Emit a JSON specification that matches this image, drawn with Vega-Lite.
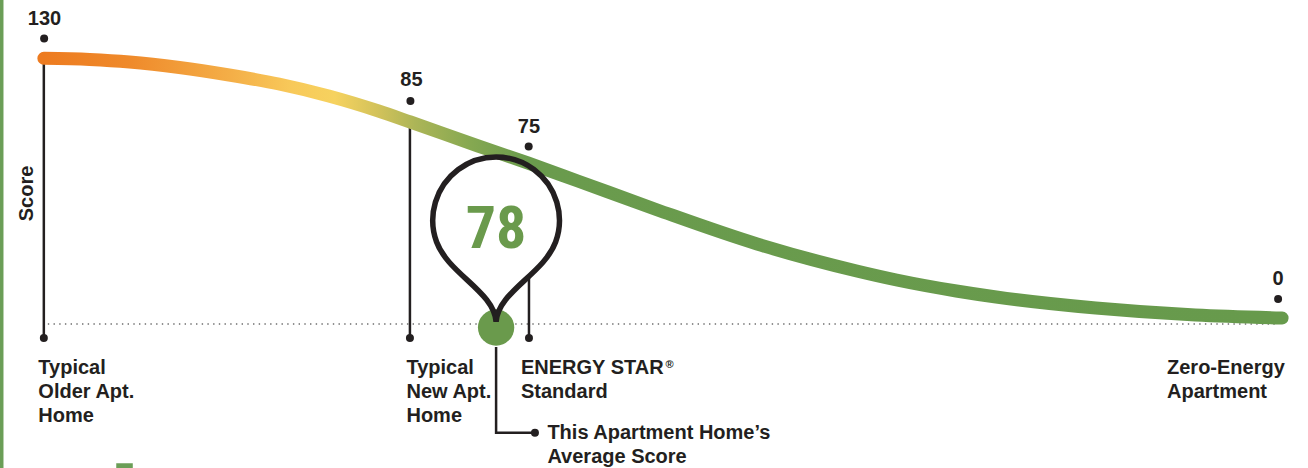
{
  "$schema": "https://vega.github.io/schema/vega-lite/v6.json",
  "width": 1308,
  "height": 468,
  "padding": 0,
  "autosize": {"type": "fit", "contains": "padding"},
  "background": "white",
  "config": {"view": {"stroke": null}},
  "datasets": {
    "frame": [
      {"x0": 0, "x1": 3.5, "y0": -72.5, "y1": 161.5},
      {"x0": 116.7, "x1": 133.3, "y0": -72.5, "y1": -70.15}
    ],
    "baseline": [{"x0": 48, "x1": 1283, "level": -0.5}],
    "stems": [
      {"pos": 44, "top": 132.35, "bottom": -7.5},
      {"pos": 411.5, "top": 100.5, "bottom": -7.5},
      {"pos": 531, "top": 80, "bottom": -7.5}
    ],
    "connector": [
      {"pos": 498, "level": -12, "step": 1},
      {"pos": 498, "level": -54.85, "step": 2},
      {"pos": 537, "level": -54.85, "step": 3}
    ],
    "curve": [
      {"pos": 44, "level": 132.35},
      {"pos": 90, "level": 131.75},
      {"pos": 130, "level": 130.5},
      {"pos": 180, "level": 127.75},
      {"pos": 230, "level": 124},
      {"pos": 280, "level": 119.5},
      {"pos": 330, "level": 113.5},
      {"pos": 380, "level": 106},
      {"pos": 412, "level": 100.5},
      {"pos": 480, "level": 88.5},
      {"pos": 530, "level": 80},
      {"pos": 580, "level": 71},
      {"pos": 660, "level": 56.5},
      {"pos": 760, "level": 39.5},
      {"pos": 860, "level": 26},
      {"pos": 900, "level": 21.5},
      {"pos": 960, "level": 16},
      {"pos": 1000, "level": 13},
      {"pos": 1100, "level": 7.5},
      {"pos": 1200, "level": 4},
      {"pos": 1287, "level": 2.5}
    ],
    "pin": [{"pos": 498, "level": 42, "textLevel": 37.5, "score": "78"}],
    "marker": [{"pos": 498, "level": -2.25}],
    "dots": [
      {"pos": 44.3, "level": 142.25},
      {"pos": 412, "level": 111},
      {"pos": 530.7, "level": 88.25},
      {"pos": 1283, "level": 12},
      {"pos": 44, "level": -7.5},
      {"pos": 411.5, "level": -7.5},
      {"pos": 531, "level": -7.5},
      {"pos": 537, "level": -54.85}
    ],
    "scores": [
      {"pos": 44.7, "level": 149, "score": "130"},
      {"pos": 413, "level": 118.5, "score": "85"},
      {"pos": 531, "level": 94.85, "score": "75"},
      {"pos": 1283, "level": 19, "score": "0"}
    ],
    "labels": [
      {"pos": 38.5, "level": -25.65, "label": "Typical\nOlder Apt.\nHome"},
      {"pos": 408, "level": -25.65, "label": "Typical\nNew Apt.\nHome"},
      {"pos": 523, "level": -25.65, "label": "ENERGY STAR\nStandard"},
      {"pos": 1171.5, "level": -25.65, "label": "Zero-Energy\nApartment"},
      {"pos": 549.5, "level": -58.15, "label": "This Apartment Home’s\nAverage Score"}
    ],
    "reg": [{"pos": 668, "level": -22.5, "label": "®"}],
    "axisTitle": [{"pos": 33, "level": 64.75, "label": "Score"}]
  },
  "layer": [
    {
      "data": {"name": "frame"},
      "mark": {"type": "rect", "color": "#6b9e57", "opacity": 1},
      "encoding": {
        "x": {"field": "x0", "type": "quantitative", "scale": {"domain": [0, 1308], "nice": false, "zero": false}, "axis": null},
        "x2": {"field": "x1"},
        "y": {"field": "y0", "type": "quantitative", "scale": {"domain": [-72.5, 161.5], "nice": false, "zero": false}, "axis": null},
        "y2": {"field": "y1"}
      }
    },
    {
      "data": {"name": "baseline"},
      "mark": {"type": "rule", "color": "#6e6e6e", "strokeWidth": 1.5, "strokeDash": [1.4, 4.3]},
      "encoding": {
        "x": {"field": "x0", "type": "quantitative", "scale": {"domain": [0, 1308], "nice": false, "zero": false}, "axis": null},
        "x2": {"field": "x1"},
        "y": {"field": "level", "type": "quantitative", "scale": {"domain": [-72.5, 161.5], "nice": false, "zero": false}, "axis": null}
      }
    },
    {
      "data": {"name": "stems"},
      "mark": {"type": "rule", "color": "#231f20", "strokeWidth": 2.5},
      "encoding": {
        "x": {"field": "pos", "type": "quantitative", "scale": {"domain": [0, 1308], "nice": false, "zero": false}, "axis": null},
        "y": {"field": "top", "type": "quantitative", "scale": {"domain": [-72.5, 161.5], "nice": false, "zero": false}, "axis": null},
        "y2": {"field": "bottom"}
      }
    },
    {
      "data": {"name": "connector"},
      "mark": {"type": "line", "color": "#231f20", "strokeWidth": 2.5, "strokeJoin": "miter", "interpolate": "linear"},
      "encoding": {
        "x": {"field": "pos", "type": "quantitative", "scale": {"domain": [0, 1308], "nice": false, "zero": false}, "axis": null},
        "y": {"field": "level", "type": "quantitative", "scale": {"domain": [-72.5, 161.5], "nice": false, "zero": false}, "axis": null},
        "order": {"field": "step", "type": "quantitative"}
      }
    },
    {
      "data": {"name": "pin"},
      "mark": {"type": "point", "shape": "M 0 0.976 C -0.02 0.62 -0.563 0.411 -0.7 0.035 A 0.745 0.745 0 1 1 0.7 0.035 C 0.563 0.411 0.02 0.62 0 0.976 Z", "size": 28900, "filled": true, "color": "#ffffff", "strokeWidth": 0, "opacity": 1},
      "encoding": {
        "x": {"field": "pos", "type": "quantitative", "scale": {"domain": [0, 1308], "nice": false, "zero": false}, "axis": null},
        "y": {"field": "level", "type": "quantitative", "scale": {"domain": [-72.5, 161.5], "nice": false, "zero": false}, "axis": null}
      }
    },
    {
      "data": {"name": "curve"},
      "mark": {
        "type": "line",
        "interpolate": "monotone",
        "strokeWidth": 13,
        "strokeCap": "round",
        "stroke": {
          "gradient": "linear",
          "x1": 0, "y1": 0, "x2": 1, "y2": 0,
          "stops": [
            {"offset": 0, "color": "#ed7b20"},
            {"offset": 0.07, "color": "#ef8a2b"},
            {"offset": 0.15, "color": "#f4ae47"},
            {"offset": 0.2, "color": "#f8c95a"},
            {"offset": 0.235, "color": "#f6d25f"},
            {"offset": 0.27, "color": "#d2c25a"},
            {"offset": 0.3, "color": "#acb557"},
            {"offset": 0.345, "color": "#85a851"},
            {"offset": 0.39, "color": "#6a9b4d"},
            {"offset": 1, "color": "#679a4c"}
          ]
        }
      },
      "encoding": {
        "x": {"field": "pos", "type": "quantitative", "scale": {"domain": [0, 1308], "nice": false, "zero": false}, "axis": null},
        "y": {"field": "level", "type": "quantitative", "scale": {"domain": [-72.5, 161.5], "nice": false, "zero": false}, "axis": null}
      }
    },
    {
      "data": {"name": "marker"},
      "mark": {"type": "circle", "size": 1320, "color": "#6a9a4c", "opacity": 1},
      "encoding": {
        "x": {"field": "pos", "type": "quantitative", "scale": {"domain": [0, 1308], "nice": false, "zero": false}, "axis": null},
        "y": {"field": "level", "type": "quantitative", "scale": {"domain": [-72.5, 161.5], "nice": false, "zero": false}, "axis": null}
      }
    },
    {
      "data": {"name": "pin"},
      "mark": {"type": "point", "shape": "M 0 0.976 C -0.02 0.62 -0.563 0.411 -0.7 0.035 A 0.745 0.745 0 1 1 0.7 0.035 C 0.563 0.411 0.02 0.62 0 0.976 Z", "size": 28900, "filled": false, "color": "#231f20", "strokeWidth": 5.5, "opacity": 1},
      "encoding": {
        "x": {"field": "pos", "type": "quantitative", "scale": {"domain": [0, 1308], "nice": false, "zero": false}, "axis": null},
        "y": {"field": "level", "type": "quantitative", "scale": {"domain": [-72.5, 161.5], "nice": false, "zero": false}, "axis": null}
      }
    },
    {
      "data": {"name": "dots"},
      "mark": {"type": "circle", "size": 64, "color": "#231f20", "opacity": 1},
      "encoding": {
        "x": {"field": "pos", "type": "quantitative", "scale": {"domain": [0, 1308], "nice": false, "zero": false}, "axis": null},
        "y": {"field": "level", "type": "quantitative", "scale": {"domain": [-72.5, 161.5], "nice": false, "zero": false}, "axis": null}
      }
    },
    {
      "data": {"name": "scores"},
      "mark": {"type": "text", "align": "center", "baseline": "alphabetic", "font": "Liberation Sans", "fontSize": 20, "fontWeight": "bold", "color": "#231f20"},
      "encoding": {
        "x": {"field": "pos", "type": "quantitative", "scale": {"domain": [0, 1308], "nice": false, "zero": false}, "axis": null},
        "y": {"field": "level", "type": "quantitative", "scale": {"domain": [-72.5, 161.5], "nice": false, "zero": false}, "axis": null},
        "text": {"field": "score", "type": "nominal"}
      }
    },
    {
      "data": {"name": "labels"},
      "mark": {"type": "text", "align": "left", "baseline": "alphabetic", "font": "Liberation Sans", "fontSize": 20, "fontWeight": "bold", "lineHeight": 24, "lineBreak": "\n", "color": "#231f20"},
      "encoding": {
        "x": {"field": "pos", "type": "quantitative", "scale": {"domain": [0, 1308], "nice": false, "zero": false}, "axis": null},
        "y": {"field": "level", "type": "quantitative", "scale": {"domain": [-72.5, 161.5], "nice": false, "zero": false}, "axis": null},
        "text": {"field": "label", "type": "nominal"}
      }
    },
    {
      "data": {"name": "reg"},
      "mark": {"type": "text", "align": "left", "baseline": "alphabetic", "font": "Liberation Sans", "fontSize": 11, "fontWeight": "bold", "color": "#231f20"},
      "encoding": {
        "x": {"field": "pos", "type": "quantitative", "scale": {"domain": [0, 1308], "nice": false, "zero": false}, "axis": null},
        "y": {"field": "level", "type": "quantitative", "scale": {"domain": [-72.5, 161.5], "nice": false, "zero": false}, "axis": null},
        "text": {"field": "label", "type": "nominal"}
      }
    },
    {
      "data": {"name": "axisTitle"},
      "mark": {"type": "text", "align": "center", "baseline": "alphabetic", "angle": 270, "font": "Liberation Sans", "fontSize": 20, "fontWeight": "bold", "color": "#231f20"},
      "encoding": {
        "x": {"field": "pos", "type": "quantitative", "scale": {"domain": [0, 1308], "nice": false, "zero": false}, "axis": null},
        "y": {"field": "level", "type": "quantitative", "scale": {"domain": [-72.5, 161.5], "nice": false, "zero": false}, "axis": null},
        "text": {"field": "label", "type": "nominal"}
      }
    },
    {
      "data": {"name": "pin"},
      "mark": {"type": "text", "align": "center", "baseline": "alphabetic", "font": "Roboto Condensed, Open Sans Condensed, Liberation Sans Narrow, DejaVu Sans Condensed, Roboto, sans-serif", "fontSize": 60, "fontWeight": "bold", "color": "#6a9a4c"},
      "encoding": {
        "x": {"field": "pos", "type": "quantitative", "scale": {"domain": [0, 1308], "nice": false, "zero": false}, "axis": null},
        "y": {"field": "textLevel", "type": "quantitative", "scale": {"domain": [-72.5, 161.5], "nice": false, "zero": false}, "axis": null},
        "text": {"field": "score", "type": "nominal"}
      }
    }
  ]
}
